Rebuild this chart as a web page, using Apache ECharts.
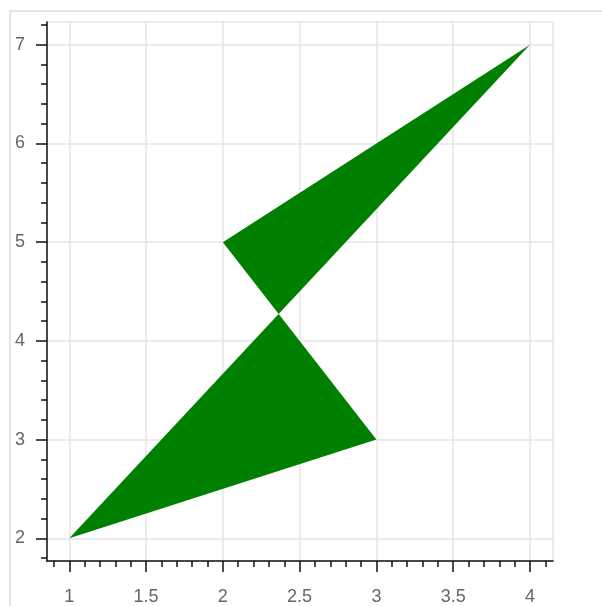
<!DOCTYPE html>
<html>
<head>
<meta charset="utf-8">
<script src="https://cdn.jsdelivr.net/npm/echarts@6/dist/echarts.min.js"></script>
<style>
  html, body { margin: 0; padding: 0; background: #fff; }
  #chart { width: 602px; height: 606px; }
</style>
</head>
<body>
<div id="chart"></div>
<script>
// Vertices of the filled patch (self-crossing outline, drawn as one polygon)
const patchX = [1, 3, 2, 4];
const patchY = [2, 3, 5, 7];

// Axis ranges
const xRange = [0.855, 4.15];
const yRange = [1.77, 7.23];

// Major tick / label positions
const xMajorTicks = [1, 1.5, 2, 2.5, 3, 3.5, 4];
const yMajorTicks = [2, 3, 4, 5, 6, 7];

// Minor tick positions
const xMinorTicks = [0.9, 1.1, 1.2, 1.3, 1.4, 1.6, 1.7, 1.8, 1.9, 2.1, 2.2, 2.3, 2.4,
  2.6, 2.7, 2.8, 2.9, 3.1, 3.2, 3.3, 3.4, 3.6, 3.7, 3.8, 3.9, 4.1];
const yMinorTicks = [1.8, 2.2, 2.4, 2.6, 2.8, 3.2, 3.4, 3.6, 3.8, 4.2, 4.4, 4.6, 4.8,
  5.2, 5.4, 5.6, 5.8, 6.2, 6.4, 6.6, 6.8, 7.2];

const GRID_COLOR = '#e6e6e6';
const AXIS_COLOR = '#111';
const LABEL_STYLE = { color: '#666', fontSize: 18, fontFamily: 'Liberation Sans, Arial, sans-serif' };

const chart = echarts.init(document.getElementById('chart'), null, { renderer: 'canvas' });

const fmt = v => String(v);

chart.setOption({
  animation: false,
  backgroundColor: '#fff',
  graphic: [{
    type: 'rect',
    shape: { x: 10, y: 11, width: 620, height: 620 },
    style: { fill: 'none', stroke: '#dcdcdc', lineWidth: 1.5 },
    silent: true,
    z: -10
  }],
  grid: {
    left: 47, top: 22, right: 49, bottom: 43,
    show: true,
    borderColor: GRID_COLOR,
    borderWidth: 1.5,
    backgroundColor: 'transparent'
  },
  xAxis: [{
    type: 'value',
    min: xRange[0], max: xRange[1],
    axisLine: { show: true, onZero: false, lineStyle: { color: AXIS_COLOR, width: 1.5 } },
    axisTick: { show: true, customValues: xMajorTicks, length: 11, lineStyle: { color: AXIS_COLOR, width: 1.5 } },
    axisLabel: Object.assign({ customValues: xMajorTicks, margin: 27, formatter: fmt }, LABEL_STYLE),
    splitLine: { show: true, lineStyle: { color: GRID_COLOR, width: 1.5 } }
  }, {
    type: 'value',
    position: 'bottom',
    min: xRange[0], max: xRange[1],
    axisLine: { show: false, onZero: false },
    axisTick: { show: true, customValues: xMinorTicks, length: 6, lineStyle: { color: AXIS_COLOR, width: 1.5 } },
    axisLabel: { show: false },
    splitLine: { show: false }
  }],
  yAxis: [{
    type: 'value',
    min: yRange[0], max: yRange[1],
    axisLine: { show: true, onZero: false, lineStyle: { color: AXIS_COLOR, width: 1.5 } },
    axisTick: { show: true, customValues: yMajorTicks, length: 11, lineStyle: { color: AXIS_COLOR, width: 1.5 } },
    axisLabel: Object.assign({ customValues: yMajorTicks, margin: 22, formatter: fmt }, LABEL_STYLE),
    splitLine: { show: true, lineStyle: { color: GRID_COLOR, width: 1.5 } }
  }, {
    type: 'value',
    position: 'left',
    min: yRange[0], max: yRange[1],
    axisLine: { show: false, onZero: false },
    axisTick: { show: true, customValues: yMinorTicks, length: 6, lineStyle: { color: AXIS_COLOR, width: 1.5 } },
    axisLabel: { show: false },
    splitLine: { show: false }
  }],
  series: [{
    type: 'custom',
    xAxisIndex: 0,
    yAxisIndex: 0,
    data: [0],
    renderItem: function (params, api) {
      const pts = patchX.map((x, i) => api.coord([x, patchY[i]]));
      return {
        type: 'polygon',
        shape: { points: pts },
        style: { fill: '#008000', stroke: null }
      };
    },
    z: 5
  }]
});
</script>
</body>
</html>
